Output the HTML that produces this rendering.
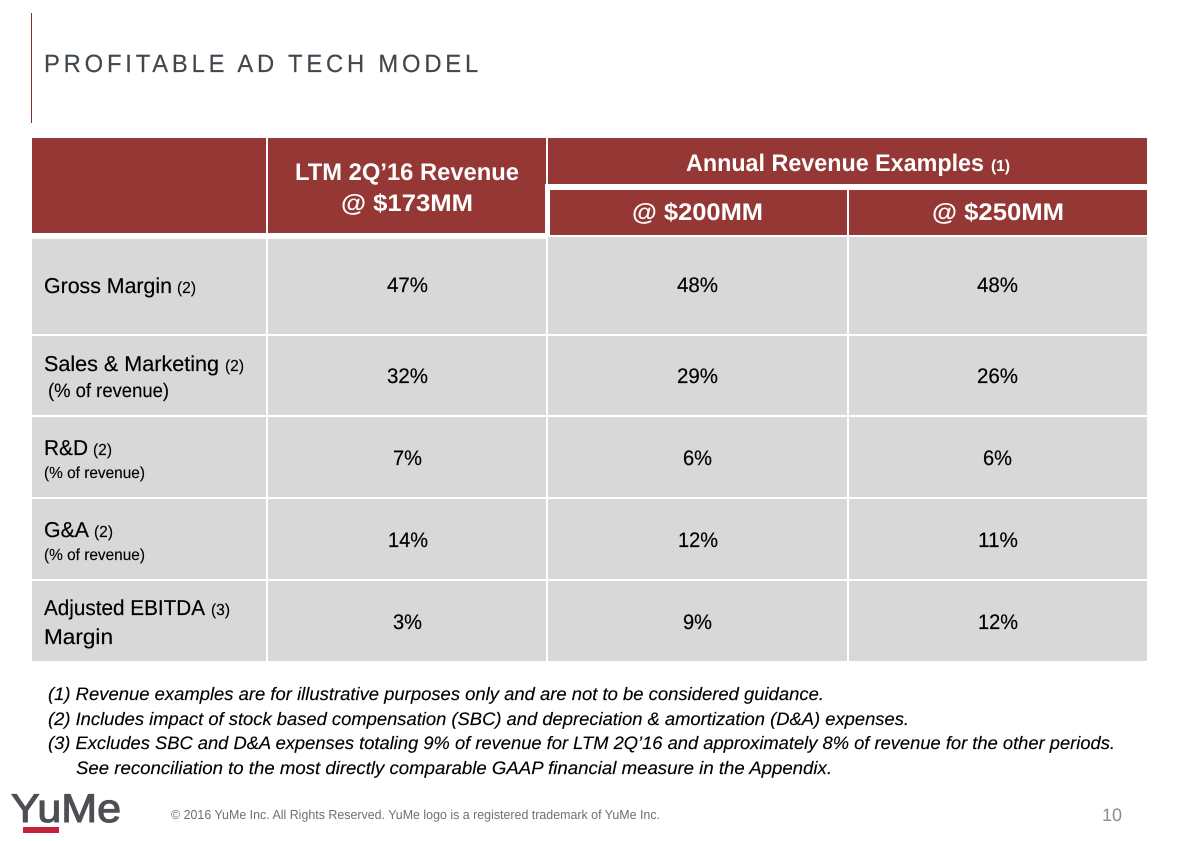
<!DOCTYPE html>
<html lang="en">
<head>
<meta charset="utf-8">
<title>Profitable Ad Tech Model</title>
<style>
html,body{margin:0;padding:0;background:#fff;width:1177px;height:841px;overflow:hidden}
svg{display:block;font-family:"Liberation Sans",sans-serif;text-rendering:geometricPrecision}
.hd{fill:#fff;font-weight:bold;font-size:24px}
.lb{fill:#000;font-size:21.5px;stroke:#000;stroke-width:.2}
.sm{fill:#000;font-size:16px;stroke:#000;stroke-width:.15}
.sub{fill:#000;font-size:16px;stroke:#000;stroke-width:.15}
.val{fill:#000;font-size:21px;stroke:#000;stroke-width:.2}
.fn{fill:#000;font-size:18px;font-style:italic;stroke:#000;stroke-width:.15}
</style>
</head>
<body>
<svg width="1177" height="841" viewBox="0 0 1177 841">
<rect x="0" y="0" width="1177" height="841" fill="#ffffff"/>
<rect x="31" y="13" width="1" height="110" fill="#8a2a2a"/>
<text x="44" y="72" font-size="25" fill="#40484e" stroke="#40484e" stroke-width=".2" letter-spacing="4" textLength="438" lengthAdjust="spacingAndGlyphs">PROFITABLE AD TECH MODEL</text>

<g fill="#953735">
<rect x="32" y="138" width="234" height="95"/>
<rect x="268" y="138" width="278" height="46"/>
<rect x="268" y="184" width="277" height="49"/>
<rect x="548" y="138" width="599" height="46"/>
<rect x="550" y="190" width="297" height="45"/>
<rect x="849" y="190" width="298" height="45"/>
</g>
<text class="hd" x="295" y="180" textLength="224" lengthAdjust="spacingAndGlyphs">LTM 2Q’16 Revenue</text>
<text class="hd" x="341" y="211" textLength="132" lengthAdjust="spacingAndGlyphs">@ $173MM</text>
<text class="hd" x="686" y="171" textLength="298" lengthAdjust="spacingAndGlyphs">Annual Revenue Examples</text>
<text x="991" y="171" font-size="16" font-weight="bold" fill="#fff" textLength="19" lengthAdjust="spacingAndGlyphs">(1)</text>
<text class="hd" x="632" y="220" textLength="131" lengthAdjust="spacingAndGlyphs">@ $200MM</text>
<text class="hd" x="932" y="220" textLength="132" lengthAdjust="spacingAndGlyphs">@ $250MM</text>

<g fill="#d8d8d8">
<rect x="32" y="239" width="234" height="95"/>
<rect x="268" y="239" width="278" height="95"/>
<rect x="548" y="237" width="299" height="97"/>
<rect x="849" y="237" width="298" height="97"/>
<rect x="32" y="336" width="234" height="79"/>
<rect x="268" y="336" width="278" height="79"/>
<rect x="548" y="336" width="299" height="79"/>
<rect x="849" y="336" width="298" height="79"/>
<rect x="32" y="417" width="234" height="80"/>
<rect x="268" y="417" width="278" height="80"/>
<rect x="548" y="417" width="299" height="80"/>
<rect x="849" y="417" width="298" height="80"/>
<rect x="32" y="499" width="234" height="80"/>
<rect x="268" y="499" width="278" height="80"/>
<rect x="548" y="499" width="299" height="80"/>
<rect x="849" y="499" width="298" height="80"/>
<rect x="32" y="581" width="234" height="80"/>
<rect x="268" y="581" width="278" height="80"/>
<rect x="548" y="581" width="299" height="80"/>
<rect x="849" y="581" width="298" height="80"/>
</g>

<text class="lb" x="44" y="293" textLength="128" lengthAdjust="spacingAndGlyphs">Gross Margin</text>
<text class="sm" x="177" y="293" textLength="19" lengthAdjust="spacingAndGlyphs">(2)</text>
<text class="val" x="387" y="292" textLength="41" lengthAdjust="spacingAndGlyphs">47%</text>
<text class="val" x="677" y="292" textLength="41" lengthAdjust="spacingAndGlyphs">48%</text>
<text class="val" x="977" y="292" textLength="41" lengthAdjust="spacingAndGlyphs">48%</text>

<text class="lb" x="44" y="371" textLength="175" lengthAdjust="spacingAndGlyphs">Sales &amp; Marketing</text>
<text class="sm" x="225" y="371" textLength="19" lengthAdjust="spacingAndGlyphs">(2)</text>
<text x="48" y="397" font-size="19.5" fill="#000" stroke="#000" stroke-width=".15" textLength="121" lengthAdjust="spacingAndGlyphs">(% of revenue)</text>
<text class="val" x="387" y="383" textLength="41" lengthAdjust="spacingAndGlyphs">32%</text>
<text class="val" x="677" y="383" textLength="41" lengthAdjust="spacingAndGlyphs">29%</text>
<text class="val" x="977" y="383" textLength="41" lengthAdjust="spacingAndGlyphs">26%</text>

<text class="lb" x="44" y="455" textLength="44" lengthAdjust="spacingAndGlyphs">R&amp;D</text>
<text class="sm" x="93" y="455" textLength="19" lengthAdjust="spacingAndGlyphs">(2)</text>
<text class="sub" x="44" y="478" textLength="101" lengthAdjust="spacingAndGlyphs">(% of revenue)</text>
<text class="val" x="393" y="465" textLength="29" lengthAdjust="spacingAndGlyphs">7%</text>
<text class="val" x="683" y="465" textLength="29" lengthAdjust="spacingAndGlyphs">6%</text>
<text class="val" x="983" y="465" textLength="29" lengthAdjust="spacingAndGlyphs">6%</text>

<text class="lb" x="44" y="537" textLength="45" lengthAdjust="spacingAndGlyphs">G&amp;A</text>
<text class="sm" x="94" y="537" textLength="19" lengthAdjust="spacingAndGlyphs">(2)</text>
<text class="sub" x="44" y="560" textLength="101" lengthAdjust="spacingAndGlyphs">(% of revenue)</text>
<text class="val" x="388" y="547" textLength="40" lengthAdjust="spacingAndGlyphs">14%</text>
<text class="val" x="678" y="547" textLength="40" lengthAdjust="spacingAndGlyphs">12%</text>
<text class="val" x="978" y="547" textLength="40" lengthAdjust="spacingAndGlyphs">11%</text>

<text class="lb" x="44" y="615" textLength="161" lengthAdjust="spacingAndGlyphs">Adjusted EBITDA</text>
<text class="sm" x="211" y="615" textLength="19" lengthAdjust="spacingAndGlyphs">(3)</text>
<text class="lb" x="44" y="644" textLength="69" lengthAdjust="spacingAndGlyphs">Margin</text>
<text class="val" x="393" y="629" textLength="29" lengthAdjust="spacingAndGlyphs">3%</text>
<text class="val" x="683" y="629" textLength="29" lengthAdjust="spacingAndGlyphs">9%</text>
<text class="val" x="978" y="629" textLength="40" lengthAdjust="spacingAndGlyphs">12%</text>

<text class="fn" x="48" y="700" textLength="776" lengthAdjust="spacingAndGlyphs">(1) Revenue examples are for illustrative purposes only and are not to be considered guidance.</text>
<text class="fn" x="48" y="725" textLength="861" lengthAdjust="spacingAndGlyphs">(2) Includes impact of stock based compensation (SBC) and depreciation &amp; amortization (D&amp;A) expenses.</text>
<text class="fn" x="48" y="749" textLength="1067" lengthAdjust="spacingAndGlyphs">(3) Excludes SBC and D&amp;A expenses totaling 9% of revenue for LTM 2Q’16 and approximately 8% of revenue for the other periods.</text>
<text class="fn" x="76" y="774" textLength="756" lengthAdjust="spacingAndGlyphs">See reconciliation to the most directly comparable GAAP financial measure in the Appendix.</text>

<text x="11" y="822" font-size="40" fill="#4d4f53" stroke="#4d4f53" stroke-width="1.1" textLength="110" lengthAdjust="spacingAndGlyphs">YuMe</text>
<rect x="23" y="827" width="36" height="6" fill="#c4213a"/>
<text x="171" y="819" font-size="13" fill="#6f6f6f" textLength="489" lengthAdjust="spacingAndGlyphs">© 2016 YuMe Inc. All Rights Reserved. YuMe logo is a registered trademark of YuMe Inc.</text>
<text x="1102" y="821" font-size="18" fill="#8c8c8c" textLength="20" lengthAdjust="spacingAndGlyphs">10</text>
</svg>
</body>
</html>
